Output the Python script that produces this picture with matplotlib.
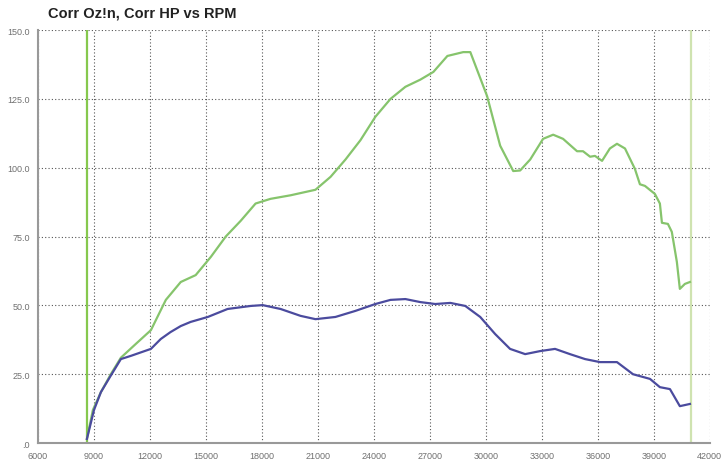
import matplotlib.pyplot as plt

plt.rcParams['font.family'] = ['Liberation Sans', 'DejaVu Sans']

# Green curve (Corr Oz-In)
green_rpm = [8620, 8940, 9370, 9900, 10440, 11240, 12050, 12850, 13650, 14450,
             15260, 16060, 16860, 17660, 18460, 19540, 20870, 21680, 22480, 23280,
             24080, 24890, 25690, 26490, 27190, 27940, 28790, 29170, 30070, 30770,
             31470, 31840, 32380, 33070, 33610, 34140, 34890, 35210, 35590, 35850,
             36230, 36650, 37030, 37460, 37990, 38260, 38530, 39060, 39330, 39440,
             39760, 39970, 40240, 40400, 40670, 40940]
green_val = [1.5, 12, 18.5, 25, 31, 36, 41, 52, 58.5, 61,
             67.6, 75, 80.7, 87, 88.7, 90, 92, 96.7, 103, 110,
             118.5, 125, 129.4, 132, 134.8, 140.6, 142, 142, 126, 108,
             98.8, 99, 103, 110.5, 112, 110.5, 106, 106, 104, 104.3,
             102.5, 107, 108.7, 107, 99.6, 94, 93.4, 90.5, 87, 80,
             79.6, 76.7, 65.8, 56, 57.8, 58.5]

# Blue curve (Corr HP)
blue_rpm = [8620, 9000, 9370, 9900, 10440, 10990, 11540, 12050, 12580, 13100,
            13650, 14180, 15100, 16160, 17400, 18040, 19000, 20070, 20870, 21940,
            23010, 24080, 24890, 25690, 26490, 27290, 28100, 28900, 29700, 30500,
            31300, 32110, 32910, 33710, 34510, 35320, 36120, 36920, 37030, 37890,
            38800, 39330, 39870, 40400, 40940]
blue_val = [1.5, 12, 18.5, 24.5, 30.5, 31.7, 33, 34.2, 37.8, 40.3,
            42.5, 44, 45.8, 48.7, 49.8, 50.1, 48.7, 46.2, 45, 45.8,
            48, 50.5, 52, 52.3, 51.2, 50.5, 50.9, 49.8, 45.8, 39.6,
            34.2, 32.3, 33.4, 34.2, 32.3, 30.5, 29.4, 29.4, 29.4, 25,
            23.3, 20.3, 19.6, 13.4, 14.2]

x_ticks = list(range(6000, 42001, 3000))
y_ticks = [0, 25, 50, 75, 100, 125, 150]
y_labels = [".0", "25.0", "50.0", "75.0", "100.0", "125.0", "150.0"]
markers = [8620, 40990]

fig = plt.figure(figsize=(7.23, 4.64), dpi=100)
ax = fig.add_axes([0.0526, 0.043, 0.929, 0.890])

ax.axvline(markers[0], color="#86c84e", lw=1.6, zorder=1)
ax.axvline(markers[1], color="#cfe3b0", lw=1.6, zorder=1)

ax.plot(green_rpm, green_val, color="#86c46c", lw=1.6, zorder=3)
ax.plot(blue_rpm, blue_val, color="#4b4b9e", lw=1.6, zorder=3)

ax.set_xlim(6000, 42000)
ax.set_ylim(0, 150)
ax.set_xticks(x_ticks)
ax.set_xticklabels([str(t) for t in x_ticks])
ax.set_yticks(y_ticks)
ax.set_yticklabels(y_labels)
ax.tick_params(length=0, labelsize=6.5, labelcolor="#707070", pad=6)

ax.grid(True, color="#555555", linestyle=(0, (1, 2)), lw=0.8)
ax.set_axisbelow(True)
for s in ["top", "right"]:
    ax.spines[s].set_visible(False)
for s in ["left", "bottom"]:
    ax.spines[s].set_color("#999999")
    ax.spines[s].set_linewidth(1.5)

fig.text(0.066, 0.955, "Corr Oz!n, Corr HP vs RPM", fontsize=10.5,
         fontweight="bold", color="#222222", va="bottom")

fig.savefig("out.png", dpi=100)
